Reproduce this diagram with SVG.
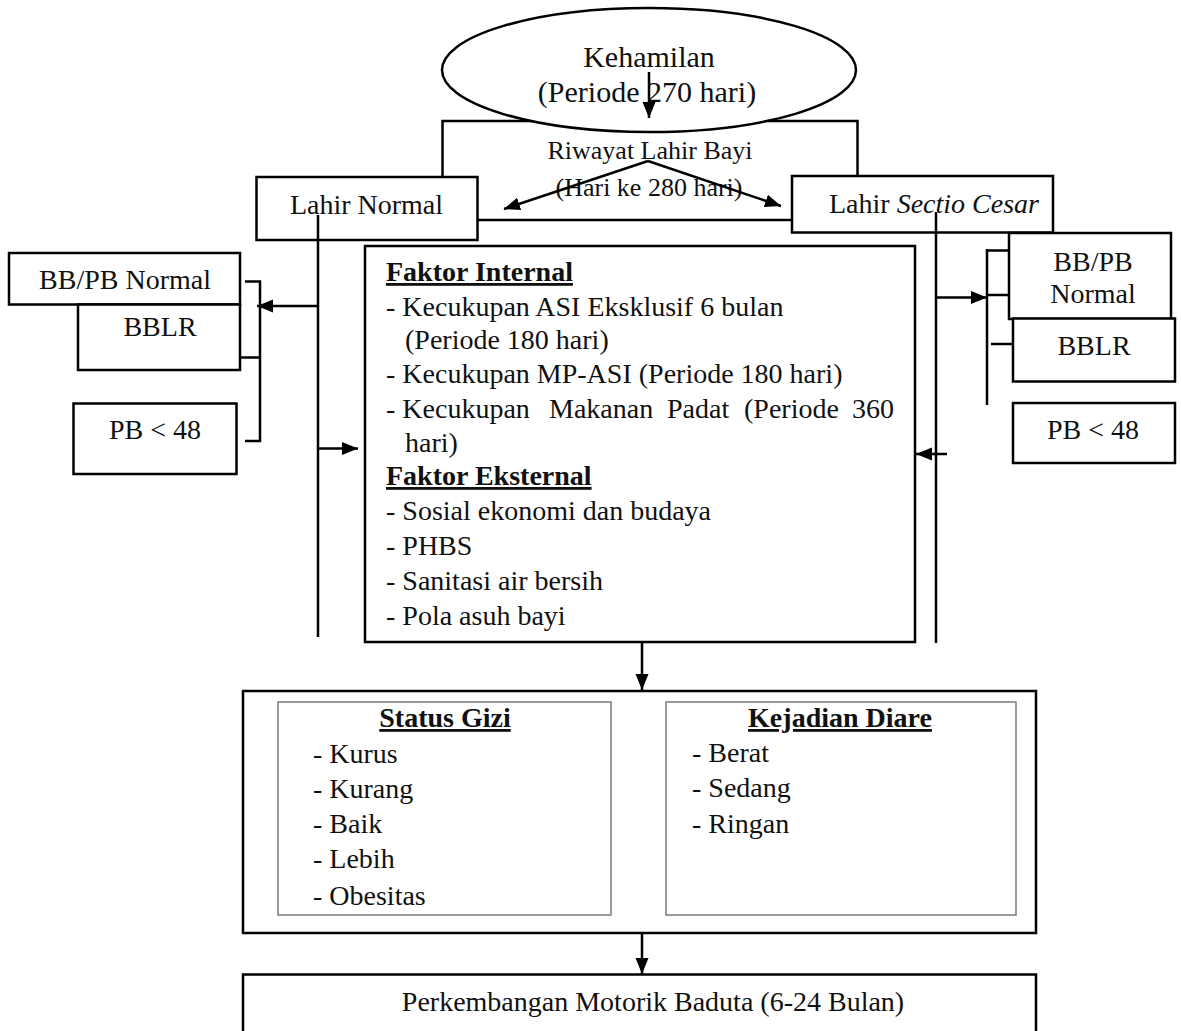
<svg xmlns="http://www.w3.org/2000/svg" width="1181" height="1031" viewBox="0 0 1181 1031">
<defs>
<style>
text{font-family:"Liberation Serif","Times New Roman",serif;font-size:28px;fill:#111;}
.c{text-anchor:middle;}
.b{font-weight:bold;text-decoration:underline;}
.box{fill:#fff;stroke:#000;stroke-width:2.5;}
.sub{fill:#fff;stroke:#7a7a7a;stroke-width:1.5;}
.ln{fill:none;stroke:#000;stroke-width:2.5;}
.ar{fill:none;stroke:#000;stroke-width:2.5;marker-end:url(#ah);}
</style>
<marker id="ah" markerUnits="userSpaceOnUse" markerWidth="17" markerHeight="14" refX="16" refY="6.5" orient="auto">
<path d="M0,0 L16,6.5 L0,13 z" fill="#000"/>
</marker>
</defs>
<rect width="1181" height="1031" fill="#fff"/>

<g id="riwayat">
<rect class="box" x="442.5" y="121" width="415" height="99"/>
<text class="c" x="650" y="159" style="font-size:26px">Riwayat Lahir Bayi</text>
<text class="c" x="649" y="196" style="font-size:26px">(Hari ke 280 hari)</text>
</g>

<g id="kehamilan">
<ellipse class="box" cx="649" cy="70" rx="207" ry="62"/>
<text class="c" x="649" y="67" style="font-size:30px">Kehamilan</text>
<text class="c" x="647" y="102" style="font-size:30px">(Periode 270 hari)</text>
</g>

<g id="lahir-normal">
<rect class="box" x="256.5" y="177" width="221" height="63"/>
<text class="c" x="366.5" y="214">Lahir Normal</text>
</g>

<g id="lahir-sectio">
<rect class="box" x="792" y="176" width="261" height="56.5"/>
<text x="829" y="213">Lahir <tspan font-style="italic">Sectio Cesar</tspan></text>
</g>

<g id="bbpb-normal-l">
<rect class="box" x="9" y="253" width="231" height="51.5"/>
<text class="c" x="125" y="289">BB/PB Normal</text>
</g>
<g id="bblr-l">
<rect class="box" x="78" y="304.5" width="162" height="65.5"/>
<text class="c" x="160" y="336">BBLR</text>
</g>
<g id="pb48-l">
<rect class="box" x="73.5" y="403.5" width="163" height="70.5"/>
<text class="c" x="155" y="439">PB &lt; 48</text>
</g>

<g id="bbpb-normal-r">
<rect class="box" x="1009" y="233" width="162" height="86"/>
<text class="c" x="1093" y="271">BB/PB</text>
<text class="c" x="1093" y="303">Normal</text>
</g>
<g id="bblr-r">
<rect class="box" x="1013" y="318.5" width="162" height="63"/>
<text class="c" x="1094" y="355">BBLR</text>
</g>
<g id="pb48-r">
<rect class="box" x="1013" y="403" width="162" height="60"/>
<text class="c" x="1093" y="439">PB &lt; 48</text>
</g>

<g id="faktor">
<rect class="box" x="365" y="246" width="550" height="396"/>
<text class="b" x="386" y="281">Faktor Internal</text>
<text x="386" y="316">- Kecukupan ASI Eksklusif 6 bulan</text>
<text x="405" y="349">(Periode 180 hari)</text>
<text x="386" y="383">- Kecukupan MP-ASI (Periode 180 hari)</text>
<text y="418"><tspan x="386">- Kecukupan</tspan><tspan x="549">Makanan</tspan><tspan x="667">Padat</tspan><tspan x="744">(Periode</tspan><tspan x="852">360</tspan></text>
<text x="405" y="452">hari)</text>
<text class="b" x="386" y="485">Faktor Eksternal</text>
<text x="386" y="520">- Sosial ekonomi dan budaya</text>
<text x="386" y="555">- PHBS</text>
<text x="386" y="590">- Sanitasi air bersih</text>
<text x="386" y="625">- Pola asuh bayi</text>
</g>

<g id="outcome">
<rect class="box" x="243" y="691" width="793" height="242"/>
<g id="status-gizi">
<rect class="sub" x="278" y="702" width="333" height="213"/>
<text class="b c" x="445" y="727">Status Gizi</text>
<text x="313" y="763">- Kurus</text>
<text x="313" y="798">- Kurang</text>
<text x="313" y="833">- Baik</text>
<text x="313" y="868">- Lebih</text>
<text x="313" y="905">- Obesitas</text>
</g>
<g id="kejadian-diare">
<rect class="sub" x="666" y="702" width="350" height="213"/>
<text class="b c" x="840" y="727">Kejadian Diare</text>
<text x="692" y="762">- Berat</text>
<text x="692" y="797">- Sedang</text>
<text x="692" y="833">- Ringan</text>
</g>
</g>

<g id="motorik">
<rect class="box" x="243" y="974.5" width="793" height="70"/>
<text class="c" x="653" y="1011">Perkembangan Motorik Baduta (6-24 Bulan)</text>
</g>

<g id="connectors">
<line class="ar" x1="649" y1="72" x2="649" y2="118"/>
<line class="ar" x1="648" y1="161" x2="504" y2="209"/>
<line class="ar" x1="648" y1="161" x2="781" y2="206"/>
<line class="ln" x1="318" y1="215" x2="318" y2="637"/>
<line class="ar" x1="318" y1="306" x2="257" y2="306"/>
<line class="ar" x1="318" y1="448.5" x2="358" y2="448.5"/>
<polyline class="ln" points="245,281.5 260,281.5 260,441 245,441"/>
<line class="ln" x1="240.5" y1="357.5" x2="260" y2="357.5"/>
<line class="ln" x1="936" y1="212" x2="936" y2="643"/>
<line class="ar" x1="936" y1="297.5" x2="987" y2="297.5"/>
<line class="ln" x1="987" y1="249" x2="987" y2="405"/>
<line class="ln" x1="987" y1="250.5" x2="1008" y2="250.5"/>
<line class="ln" x1="987" y1="295" x2="1008" y2="295"/>
<line class="ln" x1="991" y1="344" x2="1012" y2="344"/>
<line class="ar" x1="947" y1="454" x2="916" y2="454"/>
<line class="ar" x1="642" y1="643" x2="642" y2="690"/>
<line class="ar" x1="642" y1="933" x2="642" y2="974"/>
</g>
</svg>
